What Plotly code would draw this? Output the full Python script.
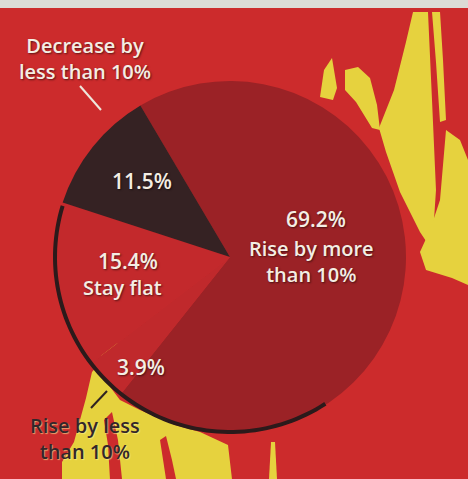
import plotly.graph_objects as go
import numpy as np

# ---- data ----
labels = ["Rise by more than 10%", "Rise by less than 10%", "Stay flat", "Decrease by less than 10%"]
values = [69.2, 3.9, 15.4, 11.5]
label_lines = [["Rise by more", "than 10%"], ["Rise by less", "than 10%"], ["Stay flat"], ["Decrease by", "less than 10%"]]
slice_colors = ["#9b2226", "#c0292c", "#c3292c", "#352223"]

W, H = 468, 479
BG = "#cc2b2c"
YELLOW = "#e6d23e"


def p(x, y):
    return x / W, 1 - y / H


def poly(points, color, layer="below"):
    pts = [p(x, y) for x, y in points]
    path = "M " + " L ".join(f"{a:.4f},{b:.4f}" for a, b in pts) + " Z"
    return dict(type="path", xref="paper", yref="paper", path=path,
                fillcolor=color, line=dict(width=0), layer=layer)


shapes = []
# light strip at top (paper edge of the scan)
shapes.append(dict(type="rect", xref="paper", yref="paper", x0=0, x1=1,
                   y0=p(0, 8)[1], y1=1, fillcolor="#dcdbd6", line=dict(width=0), layer="below"))
# yellow splashes in the background
shapes += [
    poly([(320, 97), (324, 70), (332, 58), (337, 88), (333, 100)], YELLOW),
    poly([(345, 70), (358, 67), (370, 78), (377, 105), (380, 130), (372, 128), (356, 102), (345, 90)], YELLOW),
    poly([(413, 12), (428, 12), (432, 100), (436, 190), (432, 250), (420, 232), (400, 192),
          (386, 152), (379, 128), (394, 90), (406, 42)], YELLOW),
    poly([(432, 12), (440, 12), (443, 60), (446, 120), (440, 122), (436, 62)], YELLOW),
    poly([(446, 130), (460, 140), (468, 160), (468, 285), (452, 278), (426, 270), (420, 252),
          (430, 230), (440, 200)], YELLOW),
    poly([(92, 372), (100, 363), (108, 384), (120, 400), (140, 410), (175, 425), (200, 432),
          (228, 445), (232, 479), (62, 479), (62, 462), (74, 442), (80, 420), (86, 398)], YELLOW),
    # red streaks through the lower yellow splash
    poly([(104, 420), (112, 412), (118, 440), (122, 479), (110, 479), (108, 445)], BG),
    poly([(160, 440), (166, 436), (172, 460), (176, 479), (166, 479)], BG),
    poly([(97, 352), (114, 340), (118, 344), (101, 356)], YELLOW),
    poly([(271, 442), (275, 442), (277, 479), (269, 479)], YELLOW),
]

# dark rim on the lower-left of the pie
cx, cy, r = 230, 257, 176
ang = np.radians(np.linspace(163, 303, 80))
outer = [(cx + (r + 1) * np.cos(a), cy - (r + 1) * np.sin(a)) for a in ang]
inner = [(cx + (r - 3) * np.cos(a), cy - (r - 3) * np.sin(a)) for a in ang[::-1]]
shapes.append(poly(outer + inner, "#2b1a1b", layer="above"))

# leader lines
shapes.append(dict(type="line", xref="paper", yref="paper",
                   x0=p(80, 86)[0], y0=p(80, 86)[1], x1=p(101, 110)[0], y1=p(101, 110)[1],
                   line=dict(color="#eee6dc", width=2)))
shapes.append(dict(type="line", xref="paper", yref="paper",
                   x0=p(107, 391)[0], y0=p(107, 391)[1], x1=p(91, 408)[0], y1=p(91, 408)[1],
                   line=dict(color="#2e2222", width=2)))

fig = go.Figure()
fig.add_trace(go.Pie(
    labels=labels, values=values, sort=False, direction="clockwise", rotation=-30.6,
    marker=dict(colors=slice_colors, line=dict(width=0)),
    textinfo="none", hoverinfo="label+percent", showlegend=False,
    domain=dict(x=[0.1154, 0.8675], y=[0.096, 0.831]),
))

FONT = "Open Sans"
WHITE = "#f4eee4"
SHADOW = "1px 1px 2px rgba(0,0,0,0.55)"

annotations = []
pct_pos = {0: (316, 219), 1: (141, 367), 2: (128, 261), 3: (142, 181)}
for i, (x, y) in pct_pos.items():
    ax, ay = p(x, y)
    annotations.append(dict(x=ax, y=ay, xref="paper", yref="paper", showarrow=False,
                            text=f"{values[i]:.1f}%", xanchor="center", yanchor="middle",
                            font=dict(family=FONT, size=21, weight=600, color=WHITE, shadow=SHADOW)))

name_pos = {0: (311, 261, WHITE), 2: (122, 287, WHITE), 3: (85, 58, WHITE), 1: (85, 438, "#33262a")}
for i, (x, y, col) in name_pos.items():
    ax, ay = p(x, y)
    annotations.append(dict(x=ax, y=ay, xref="paper", yref="paper", showarrow=False,
                            text="<br>".join(label_lines[i]), xanchor="center", yanchor="middle",
                            align="center",
                            font=dict(family=FONT, size=20, weight=600, color=col,
                                      shadow=SHADOW if col == WHITE else "1px 1px 1px rgba(255,240,150,0.6)")))

fig.update_layout(
    width=W, height=H, margin=dict(l=0, r=0, t=0, b=0),
    paper_bgcolor=BG, plot_bgcolor=BG,
    shapes=shapes, annotations=annotations,
)
fig.write_html("out.html")
